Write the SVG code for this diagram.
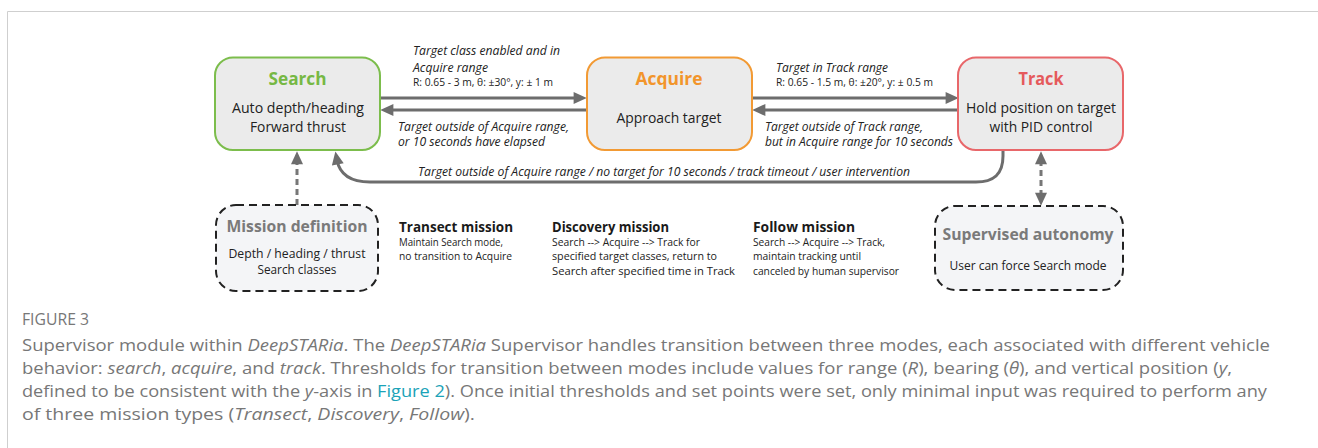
<svg xmlns="http://www.w3.org/2000/svg" width="1318" height="448" viewBox="0 0 1318 448">
<style>
.box{fill:#ebebeb;stroke-width:2}
.dbox{fill:#f4f5f7;stroke:#222;stroke-width:2;stroke-dasharray:8 5}
.t{font-family:"Open Sans","Liberation Sans",sans-serif;fill:#222}
.title{font-family:"Open Sans","Liberation Sans",sans-serif;font-weight:bold;font-size:17.5px;text-anchor:middle}
.body{font-size:14px;text-anchor:middle}
.lab{font-family:"Open Sans","Liberation Sans",sans-serif;font-style:italic;font-size:12.5px;fill:#222}
.sm{font-family:"Open Sans","Liberation Sans",sans-serif;font-size:10.5px;fill:#222}
.mt{font-family:"Open Sans","Liberation Sans",sans-serif;font-weight:bold;font-size:14px;fill:#1a1a1a}
.mb{font-family:"Open Sans","Liberation Sans",sans-serif;font-size:11px;fill:#222}
.gt{font-family:"Open Sans","Liberation Sans",sans-serif;font-weight:bold;font-size:16px;fill:#7a7a7a;text-anchor:middle}
.conn{fill:none;stroke:#6d6d6d;stroke-width:3}
.dash{fill:none;stroke:#777;stroke-width:3;stroke-dasharray:6 4}
.cap{font-family:"Open Sans","Liberation Sans",sans-serif;font-size:17px;fill:#777}
</style>
<defs>
<marker id="ah" markerUnits="userSpaceOnUse" markerWidth="14" markerHeight="12" viewBox="0 0 12 11" refX="4" refY="5.5" orient="auto-start-reverse">
<path d="M0,0 L12,5.5 L0,11 z" fill="#6d6d6d"/>
</marker>
</defs>
<rect width="1318" height="448" fill="#fff"/>
<path d="M7.5,448 V11.5 H1318" fill="none" stroke="#cfcfcf" stroke-width="1"/>

<g id="connectors">
<line class="conn" x1="380" y1="98" x2="578" y2="98" marker-end="url(#ah)"/>
<line class="conn" x1="587" y1="110" x2="389" y2="110" marker-end="url(#ah)"/>
<line class="conn" x1="752" y1="98" x2="950" y2="98" marker-end="url(#ah)"/>
<line class="conn" x1="958" y1="110" x2="761" y2="110" marker-end="url(#ah)"/>
<path class="conn" d="M1003,150 V156 C1003,174 994,182 976,182 H370 C352,182 340,176 337,160" marker-end="url(#ah)"/>
<line class="dash" x1="297" y1="205" x2="297" y2="160" marker-end="url(#ah)"/>
<line class="dash" x1="1041" y1="160" x2="1041" y2="197" marker-start="url(#ah)" marker-end="url(#ah)"/>
<text class="lab" x="413" y="55" textLength="147" lengthAdjust="spacingAndGlyphs">Target class enabled and in</text>
<text class="lab" x="413" y="72" textLength="75" lengthAdjust="spacingAndGlyphs">Acquire range</text>
<text class="sm" x="413" y="86" textLength="140" lengthAdjust="spacingAndGlyphs">R: 0.65 - 3 m, θ: ±30°, y: ± 1 m</text>
<text class="lab" x="398" y="131" textLength="171" lengthAdjust="spacingAndGlyphs">Target outside of Acquire range,</text>
<text class="lab" x="398" y="146" textLength="147" lengthAdjust="spacingAndGlyphs">or 10 seconds have elapsed</text>
<text class="lab" x="776" y="72" textLength="112" lengthAdjust="spacingAndGlyphs">Target in Track range</text>
<text class="sm" x="776" y="86" textLength="157" lengthAdjust="spacingAndGlyphs">R: 0.65 - 1.5 m, θ: ±20°, y: ± 0.5 m</text>
<text class="lab" x="765" y="131" textLength="158" lengthAdjust="spacingAndGlyphs">Target outside of Track range,</text>
<text class="lab" x="765" y="146" textLength="188" lengthAdjust="spacingAndGlyphs">but in Acquire range for 10 seconds</text>
<text class="lab" x="418" y="176" textLength="492" lengthAdjust="spacingAndGlyphs">Target outside of Acquire range / no target for 10 seconds / track timeout / user intervention</text>
</g>

<g id="search">
<rect class="box" x="215" y="57.5" width="165" height="92.5" rx="18" stroke="#7cbd4c"/>
<text class="title" x="297.5" y="85" fill="#76b844" textLength="58" lengthAdjust="spacingAndGlyphs">Search</text>
<text class="t body" x="298" y="113" textLength="132" lengthAdjust="spacingAndGlyphs">Auto depth/heading</text>
<text class="t body" x="298" y="132" textLength="96" lengthAdjust="spacingAndGlyphs">Forward thrust</text>
</g>

<g id="acquire">
<rect class="box" x="587" y="57.5" width="165" height="92.5" rx="18" stroke="#f29a34"/>
<text class="title" x="669" y="85" fill="#f2952b" textLength="67" lengthAdjust="spacingAndGlyphs">Acquire</text>
<text class="t body" x="669" y="123" textLength="105" lengthAdjust="spacingAndGlyphs">Approach target</text>
</g>

<g id="track">
<rect class="box" x="958" y="57.5" width="165" height="92.5" rx="18" stroke="#e8676a"/>
<text class="title" x="1041" y="85" fill="#e55a5c" textLength="45" lengthAdjust="spacingAndGlyphs">Track</text>
<text class="t body" x="1041" y="113" textLength="150" lengthAdjust="spacingAndGlyphs">Hold position on target</text>
<text class="t body" x="1041" y="132" textLength="103" lengthAdjust="spacingAndGlyphs">with PID control</text>
</g>

<g id="mission-definition">
<rect class="dbox" x="216" y="205" width="162" height="86" rx="20"/>
<text class="gt" x="297" y="232" textLength="141" lengthAdjust="spacingAndGlyphs">Mission definition</text>
<text class="t" x="297" y="258" font-size="13" text-anchor="middle" textLength="137" lengthAdjust="spacingAndGlyphs">Depth / heading / thrust</text>
<text class="t" x="297" y="274" font-size="13" text-anchor="middle" textLength="79" lengthAdjust="spacingAndGlyphs">Search classes</text>
</g>

<g id="transect">
<text class="mt" x="399" y="232" textLength="114" lengthAdjust="spacingAndGlyphs">Transect mission</text>
<text class="mb" x="399" y="246" textLength="104" lengthAdjust="spacingAndGlyphs">Maintain Search mode,</text>
<text class="mb" x="399" y="260" textLength="113" lengthAdjust="spacingAndGlyphs">no transition to Acquire</text>
</g>

<g id="discovery">
<text class="mt" x="552" y="232" textLength="117" lengthAdjust="spacingAndGlyphs">Discovery mission</text>
<text class="mb" x="552" y="246" textLength="148" lengthAdjust="spacingAndGlyphs">Search --&gt; Acquire --&gt; Track for</text>
<text class="mb" x="552" y="260" textLength="165" lengthAdjust="spacingAndGlyphs">specified target classes, return to</text>
<text class="mb" x="552" y="275" textLength="183" lengthAdjust="spacingAndGlyphs">Search after specified time in Track</text>
</g>

<g id="follow">
<text class="mt" x="753" y="232" textLength="102" lengthAdjust="spacingAndGlyphs">Follow mission</text>
<text class="mb" x="753" y="246" textLength="132" lengthAdjust="spacingAndGlyphs">Search --&gt; Acquire --&gt; Track,</text>
<text class="mb" x="753" y="260" textLength="108" lengthAdjust="spacingAndGlyphs">maintain tracking until</text>
<text class="mb" x="753" y="275" textLength="146" lengthAdjust="spacingAndGlyphs">canceled by human supervisor</text>
</g>

<g id="supervised-autonomy">
<rect class="dbox" x="935" y="206" width="188" height="84" rx="20"/>
<text class="gt" x="1028" y="240" textLength="171" lengthAdjust="spacingAndGlyphs">Supervised autonomy</text>
<text class="t" x="1028" y="270" font-size="13" text-anchor="middle" textLength="157" lengthAdjust="spacingAndGlyphs">User can force Search mode</text>
</g>

<g id="caption">
<text class="cap" x="22" y="325" font-size="13" fill="#666" textLength="67" lengthAdjust="spacingAndGlyphs">FIGURE 3</text>
<text class="cap" x="22" y="351" textLength="1248" lengthAdjust="spacingAndGlyphs">Supervisor module within <tspan font-style="italic">DeepSTARia</tspan>. The <tspan font-style="italic">DeepSTARia</tspan> Supervisor handles transition between three modes, each associated with different vehicle</text>
<text class="cap" x="22" y="374" textLength="1210" lengthAdjust="spacingAndGlyphs">behavior: <tspan font-style="italic">search</tspan>, <tspan font-style="italic">acquire</tspan>, and <tspan font-style="italic">track</tspan>. Thresholds for transition between modes include values for range (<tspan font-style="italic">R</tspan>), bearing (<tspan font-style="italic">θ</tspan>), and vertical position (<tspan font-style="italic">y</tspan>,</text>
<text class="cap" x="22" y="397" textLength="1245" lengthAdjust="spacingAndGlyphs">defined to be consistent with the <tspan font-style="italic">y</tspan>-axis in <tspan fill="#1ba3b8">Figure 2</tspan>). Once initial thresholds and set points were set, only minimal input was required to perform any</text>
<text class="cap" x="22" y="420" textLength="453" lengthAdjust="spacingAndGlyphs">of three mission types (<tspan font-style="italic">Transect</tspan>, <tspan font-style="italic">Discovery</tspan>, <tspan font-style="italic">Follow</tspan>).</text>
</g>
</svg>
